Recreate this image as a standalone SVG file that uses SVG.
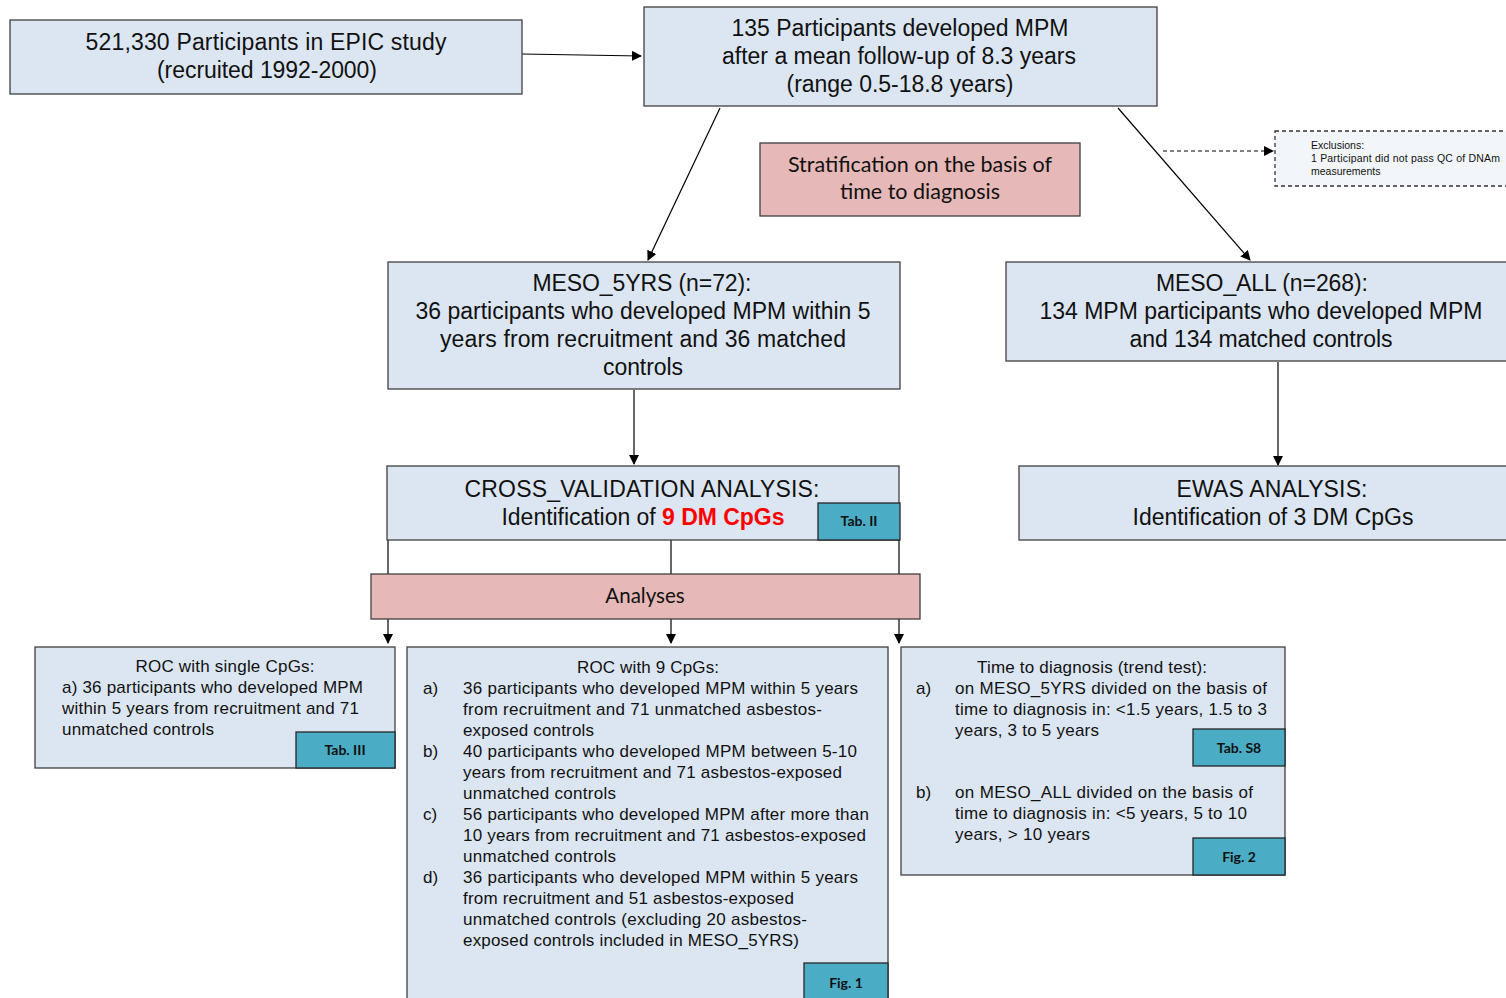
<svg xmlns="http://www.w3.org/2000/svg" width="1506" height="998" viewBox="0 0 1506 998">
<defs>
<marker id="ah" markerWidth="10" markerHeight="10" refX="9" refY="5" orient="auto" markerUnits="userSpaceOnUse">
<path d="M0,0 L10,5 L0,10 Z" fill="#000"/>
</marker>
<style>
.box{fill:#dce6f2;stroke:#404040;stroke-width:1.3}
.pink{fill:#e6b8b7;stroke:#404040;stroke-width:1.3}
.tab{fill:#4bacc6;stroke:#262626;stroke-width:1.3}
.t{font-family:"Liberation Sans",Arial,sans-serif;fill:#111}
.big{font-size:23px;text-anchor:middle}
.sm{font-size:17px}
.cal{font-family:Lato,"Open Sans",sans-serif;fill:#111;text-anchor:middle}
.tabt{font-family:Lato,"Open Sans",sans-serif;font-weight:bold;font-size:14px;fill:#111;text-anchor:middle}
.ln{stroke:#000;stroke-width:1.2;fill:none}
</style>
</defs>
<rect width="1506" height="998" fill="#fff"/>

<g id="connectors">
<line class="ln" x1="522" y1="54" x2="641" y2="56" marker-end="url(#ah)"/>
<line class="ln" x1="1163" y1="151" x2="1273" y2="151" stroke-dasharray="4,3" marker-end="url(#ah)"/>
<line class="ln" x1="720" y1="108" x2="648" y2="260" marker-end="url(#ah)"/>
<line class="ln" x1="1118" y1="108" x2="1250" y2="260" marker-end="url(#ah)"/>
<line class="ln" x1="634" y1="390" x2="634" y2="464" marker-end="url(#ah)"/>
<line class="ln" x1="1278" y1="362" x2="1278" y2="465" marker-end="url(#ah)"/>
<line class="ln" x1="388" y1="540" x2="388" y2="574"/>
<line class="ln" x1="671" y1="540" x2="671" y2="574"/>
<line class="ln" x1="899" y1="540" x2="899" y2="574"/>
<line class="ln" x1="388" y1="619" x2="388" y2="643" marker-end="url(#ah)"/>
<line class="ln" x1="671" y1="619" x2="671" y2="643" marker-end="url(#ah)"/>
<line class="ln" x1="899" y1="619" x2="899" y2="643" marker-end="url(#ah)"/>
</g>

<g id="epic">
<rect class="box" x="10" y="20" width="512" height="74"/>
<text class="t big" x="266" y="50" textLength="361" lengthAdjust="spacing">521,330  Participants in EPIC study</text>
<text class="t big" x="267" y="78" textLength="220" lengthAdjust="spacing">(recruited 1992-2000)</text>
</g>

<g id="mpm">
<rect class="box" x="644" y="7" width="513" height="99"/>
<text class="t big" x="900" y="36" textLength="337" lengthAdjust="spacing">135 Participants developed  MPM</text>
<text class="t big" x="899" y="64" textLength="354" lengthAdjust="spacing">after a mean  follow-up of 8.3 years</text>
<text class="t big" x="900" y="92" textLength="227" lengthAdjust="spacing">(range 0.5-18.8 years)</text>
</g>

<g id="strat">
<rect class="pink" x="760" y="143" width="320" height="73"/>
<text class="cal" x="920" y="172" font-size="21.5">Stratification on the basis of</text>
<text class="cal" x="920" y="199" font-size="21.5">time to diagnosis</text>
</g>

<g id="exclusions">
<rect x="1275" y="131" width="240" height="55" fill="#f2f6fb" stroke="#333" stroke-width="1.3" stroke-dasharray="4,3"/>
<text class="t" x="1311" y="149" font-size="10.5">Exclusions:</text>
<text class="t" x="1311" y="162" font-size="10.5" textLength="189" lengthAdjust="spacing">1 Participant did not pass QC of DNAm</text>
<text class="t" x="1311" y="175" font-size="10.5">measurements</text>
</g>

<g id="meso5">
<rect class="box" x="388" y="262" width="512" height="127"/>
<text class="t big" x="642" y="291" textLength="219" lengthAdjust="spacing">MESO_5YRS (n=72):</text>
<text class="t big" x="643" y="319" textLength="455" lengthAdjust="spacing">36 participants who developed MPM within 5</text>
<text class="t big" x="643" y="347" textLength="406" lengthAdjust="spacing">years from recruitment  and 36 matched</text>
<text class="t big" x="643" y="375" textLength="80" lengthAdjust="spacing">controls</text>
</g>

<g id="mesoall">
<rect class="box" x="1006" y="262" width="510" height="99"/>
<text class="t big" x="1262" y="291" textLength="212" lengthAdjust="spacing">MESO_ALL (n=268):</text>
<text class="t big" x="1261" y="319" textLength="443" lengthAdjust="spacing">134 MPM participants who developed MPM</text>
<text class="t big" x="1261" y="347" textLength="263" lengthAdjust="spacing">and 134 matched controls</text>
</g>

<g id="crossval">
<rect class="box" x="387" y="466" width="512" height="74"/>
<text class="t big" x="642" y="497" textLength="355" lengthAdjust="spacing">CROSS_VALIDATION ANALYSIS:</text>
<text class="t big" x="643" y="525" textLength="283" lengthAdjust="spacing">Identification of <tspan fill="#ff0000" font-weight="bold">9 DM CpGs</tspan></text>
<rect class="tab" x="818" y="503" width="82" height="37"/>
<text class="tabt" x="859" y="526">Tab. II</text>
</g>

<g id="ewas">
<rect class="box" x="1019" y="466" width="497" height="74"/>
<text class="t big" x="1272" y="497" textLength="191" lengthAdjust="spacing">EWAS ANALYSIS:</text>
<text class="t big" x="1273" y="525" textLength="281" lengthAdjust="spacing">Identification of 3 DM CpGs</text>
</g>

<g id="analyses">
<rect class="pink" x="371" y="574" width="549" height="45"/>
<text class="cal" x="645" y="603" font-size="20.5">Analyses</text>
</g>

<g id="rocsingle">
<rect class="box" x="35" y="647" width="360" height="121"/>
<text class="t sm" x="225" y="672" text-anchor="middle" textLength="179" lengthAdjust="spacing">ROC with single  CpGs:</text>
<text class="t sm" x="62" y="693" textLength="301" lengthAdjust="spacing">a) 36 participants  who developed  MPM</text>
<text class="t sm" x="62" y="714" textLength="297" lengthAdjust="spacing">within 5 years from recruitment and 71</text>
<text class="t sm" x="62" y="735" textLength="152" lengthAdjust="spacing">unmatched  controls</text>
<rect class="tab" x="296" y="732" width="99" height="36"/>
<text class="tabt" x="345" y="755">Tab. III</text>
</g>

<g id="roc9">
<rect class="box" x="407" y="647" width="481" height="360"/>
<text class="t sm" x="648" y="673" text-anchor="middle" textLength="142" lengthAdjust="spacing">ROC with 9 CpGs:</text>
<text class="t sm" x="423" y="694">a)</text>
<text class="t sm" x="463" y="694" textLength="395" lengthAdjust="spacing">36 participants  who developed  MPM  within 5 years</text>
<text class="t sm" x="463" y="715" textLength="359" lengthAdjust="spacing">from recruitment  and 71 unmatched asbestos-</text>
<text class="t sm" x="463" y="736" textLength="131" lengthAdjust="spacing">exposed  controls</text>
<text class="t sm" x="423" y="757">b)</text>
<text class="t sm" x="463" y="757" textLength="394" lengthAdjust="spacing">40 participants  who developed  MPM  between  5-10</text>
<text class="t sm" x="463" y="778" textLength="379" lengthAdjust="spacing">years from recruitment  and 71 asbestos-exposed</text>
<text class="t sm" x="463" y="799" textLength="153" lengthAdjust="spacing">unmatched  controls</text>
<text class="t sm" x="423" y="820">c)</text>
<text class="t sm" x="463" y="820" textLength="406" lengthAdjust="spacing">56 participants  who developed  MPM  after more than</text>
<text class="t sm" x="463" y="841" textLength="403" lengthAdjust="spacing">10 years from recruitment and 71 asbestos-exposed</text>
<text class="t sm" x="463" y="862" textLength="153" lengthAdjust="spacing">unmatched  controls</text>
<text class="t sm" x="423" y="883">d)</text>
<text class="t sm" x="463" y="883" textLength="395" lengthAdjust="spacing">36 participants  who developed  MPM  within 5 years</text>
<text class="t sm" x="463" y="904" textLength="331" lengthAdjust="spacing">from recruitment  and 51  asbestos-exposed</text>
<text class="t sm" x="463" y="925" textLength="344" lengthAdjust="spacing">unmatched  controls (excluding  20 asbestos-</text>
<text class="t sm" x="463" y="946" textLength="336" lengthAdjust="spacing">exposed  controls included  in MESO_5YRS)</text>
<rect class="tab" x="804" y="963" width="84" height="44"/>
<text class="tabt" x="846" y="988">Fig. 1</text>
</g>

<g id="timediag">
<rect class="box" x="901" y="647" width="384" height="228"/>
<text class="t sm" x="977" y="673" textLength="230" lengthAdjust="spacing">Time to diagnosis  (trend test):</text>
<text class="t sm" x="916" y="694">a)</text>
<text class="t sm" x="955" y="694" textLength="312" lengthAdjust="spacing">on MESO_5YRS  divided  on the basis of</text>
<text class="t sm" x="955" y="715" textLength="312" lengthAdjust="spacing">time to diagnosis in:  &lt;1.5 years, 1.5 to 3</text>
<text class="t sm" x="955" y="736" textLength="144" lengthAdjust="spacing">years, 3 to 5 years</text>
<rect class="tab" x="1193" y="729" width="92" height="37"/>
<text class="tabt" x="1239" y="753">Tab. S8</text>
<text class="t sm" x="916" y="798">b)</text>
<text class="t sm" x="955" y="798" textLength="298" lengthAdjust="spacing">on MESO_ALL  divided  on the basis of</text>
<text class="t sm" x="955" y="819" textLength="292" lengthAdjust="spacing">time to diagnosis in:  &lt;5 years, 5 to 10</text>
<text class="t sm" x="955" y="840" textLength="135" lengthAdjust="spacing">years, &gt; 10 years</text>
<rect class="tab" x="1193" y="838" width="92" height="37"/>
<text class="tabt" x="1239" y="862">Fig. 2</text>
</g>
</svg>
